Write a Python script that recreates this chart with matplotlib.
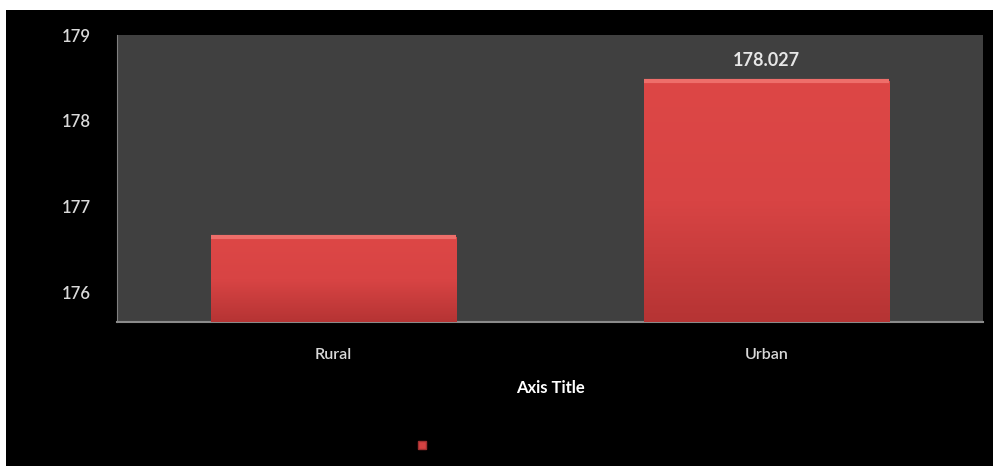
import numpy as np
import matplotlib.pyplot as plt
from matplotlib.patches import Rectangle
from matplotlib.lines import Line2D

categories = ['Rural', 'Urban']
values = [176.64, 178.46]
value_labels = ['', '178.027']
yticks = [176, 177, 178, 179]

plt.rcParams['font.family'] = ['Lato', 'DejaVu Sans']

fig = plt.figure(figsize=(9.93, 4.66), dpi=100, facecolor='white')
# black background with thin white strip on top and left
fig.patches.append(Rectangle((6 / 993, 0), 1, (466 - 10) / 466, transform=fig.transFigure,
                             facecolor='black', edgecolor='none', zorder=-10))

ax = fig.add_axes([117 / 993, (466 - 322) / 466, 866 / 993, 287 / 466])
ax.set_facecolor('#404040')

x = np.arange(len(categories))
bars = ax.bar(x, values, width=0.566, color='#d44242', zorder=2)
ax.set_xlim(-0.5, len(categories) - 0.5)
ax.set_ylim(175.65, 179)

# shaded look on the bars
ybot = ax.get_ylim()[0]
grad = np.linspace(0, 1, 100).reshape(-1, 1)
cmap = plt.matplotlib.colors.LinearSegmentedColormap.from_list('bar', ['#b63434', '#d84444', '#dd4746'])
for p in bars:
    x0, w, top = p.get_x(), p.get_width(), p.get_y() + p.get_height()
    ax.imshow(grad, extent=[x0, x0 + w, ybot, top], origin='lower', cmap=cmap,
              aspect='auto', zorder=3)
    ax.plot([x0, x0 + w], [top, top], color='#ee6e6a', lw=3, zorder=4, solid_capstyle='butt')

for xi, v, lab in zip(x, values, value_labels):
    if lab:
        ax.annotate(lab, (xi, v), xytext=(0, 9), textcoords='offset points', ha='center',
                    va='bottom', color='#e6e6e6', fontsize=13, fontweight='bold')

ax.set_xticks(x)
ax.set_xticklabels(categories, color='#d9d9d9', fontsize=11.5, fontweight='semibold')
ax.set_yticks(yticks)
ax.set_yticklabels([str(t) for t in yticks], color='#d9d9d9', fontsize=12, fontweight='semibold')
ax.tick_params(axis='both', length=0)
ax.tick_params(axis='y', pad=19)
ax.tick_params(axis='x', pad=19)

for s in ['top', 'right']:
    ax.spines[s].set_visible(False)
ax.spines['left'].set_color('#808080')
ax.spines['bottom'].set_color('#8a8a8a')
ax.spines['bottom'].set_linewidth(1.5)

ax.set_xlabel('Axis Title', color='white', fontsize=12, fontweight='bold', labelpad=13)

handle = Line2D([], [], marker='s', color='none', markerfacecolor='#d44242',
                markeredgecolor='#a03030', markersize=6)
fig.legend(handles=[handle], labels=[''], loc='center', frameon=False,
           bbox_to_anchor=(428 / 993, 1 - 446 / 466), handlelength=1)

fig.savefig('out.png', dpi=100, facecolor=fig.get_facecolor())
